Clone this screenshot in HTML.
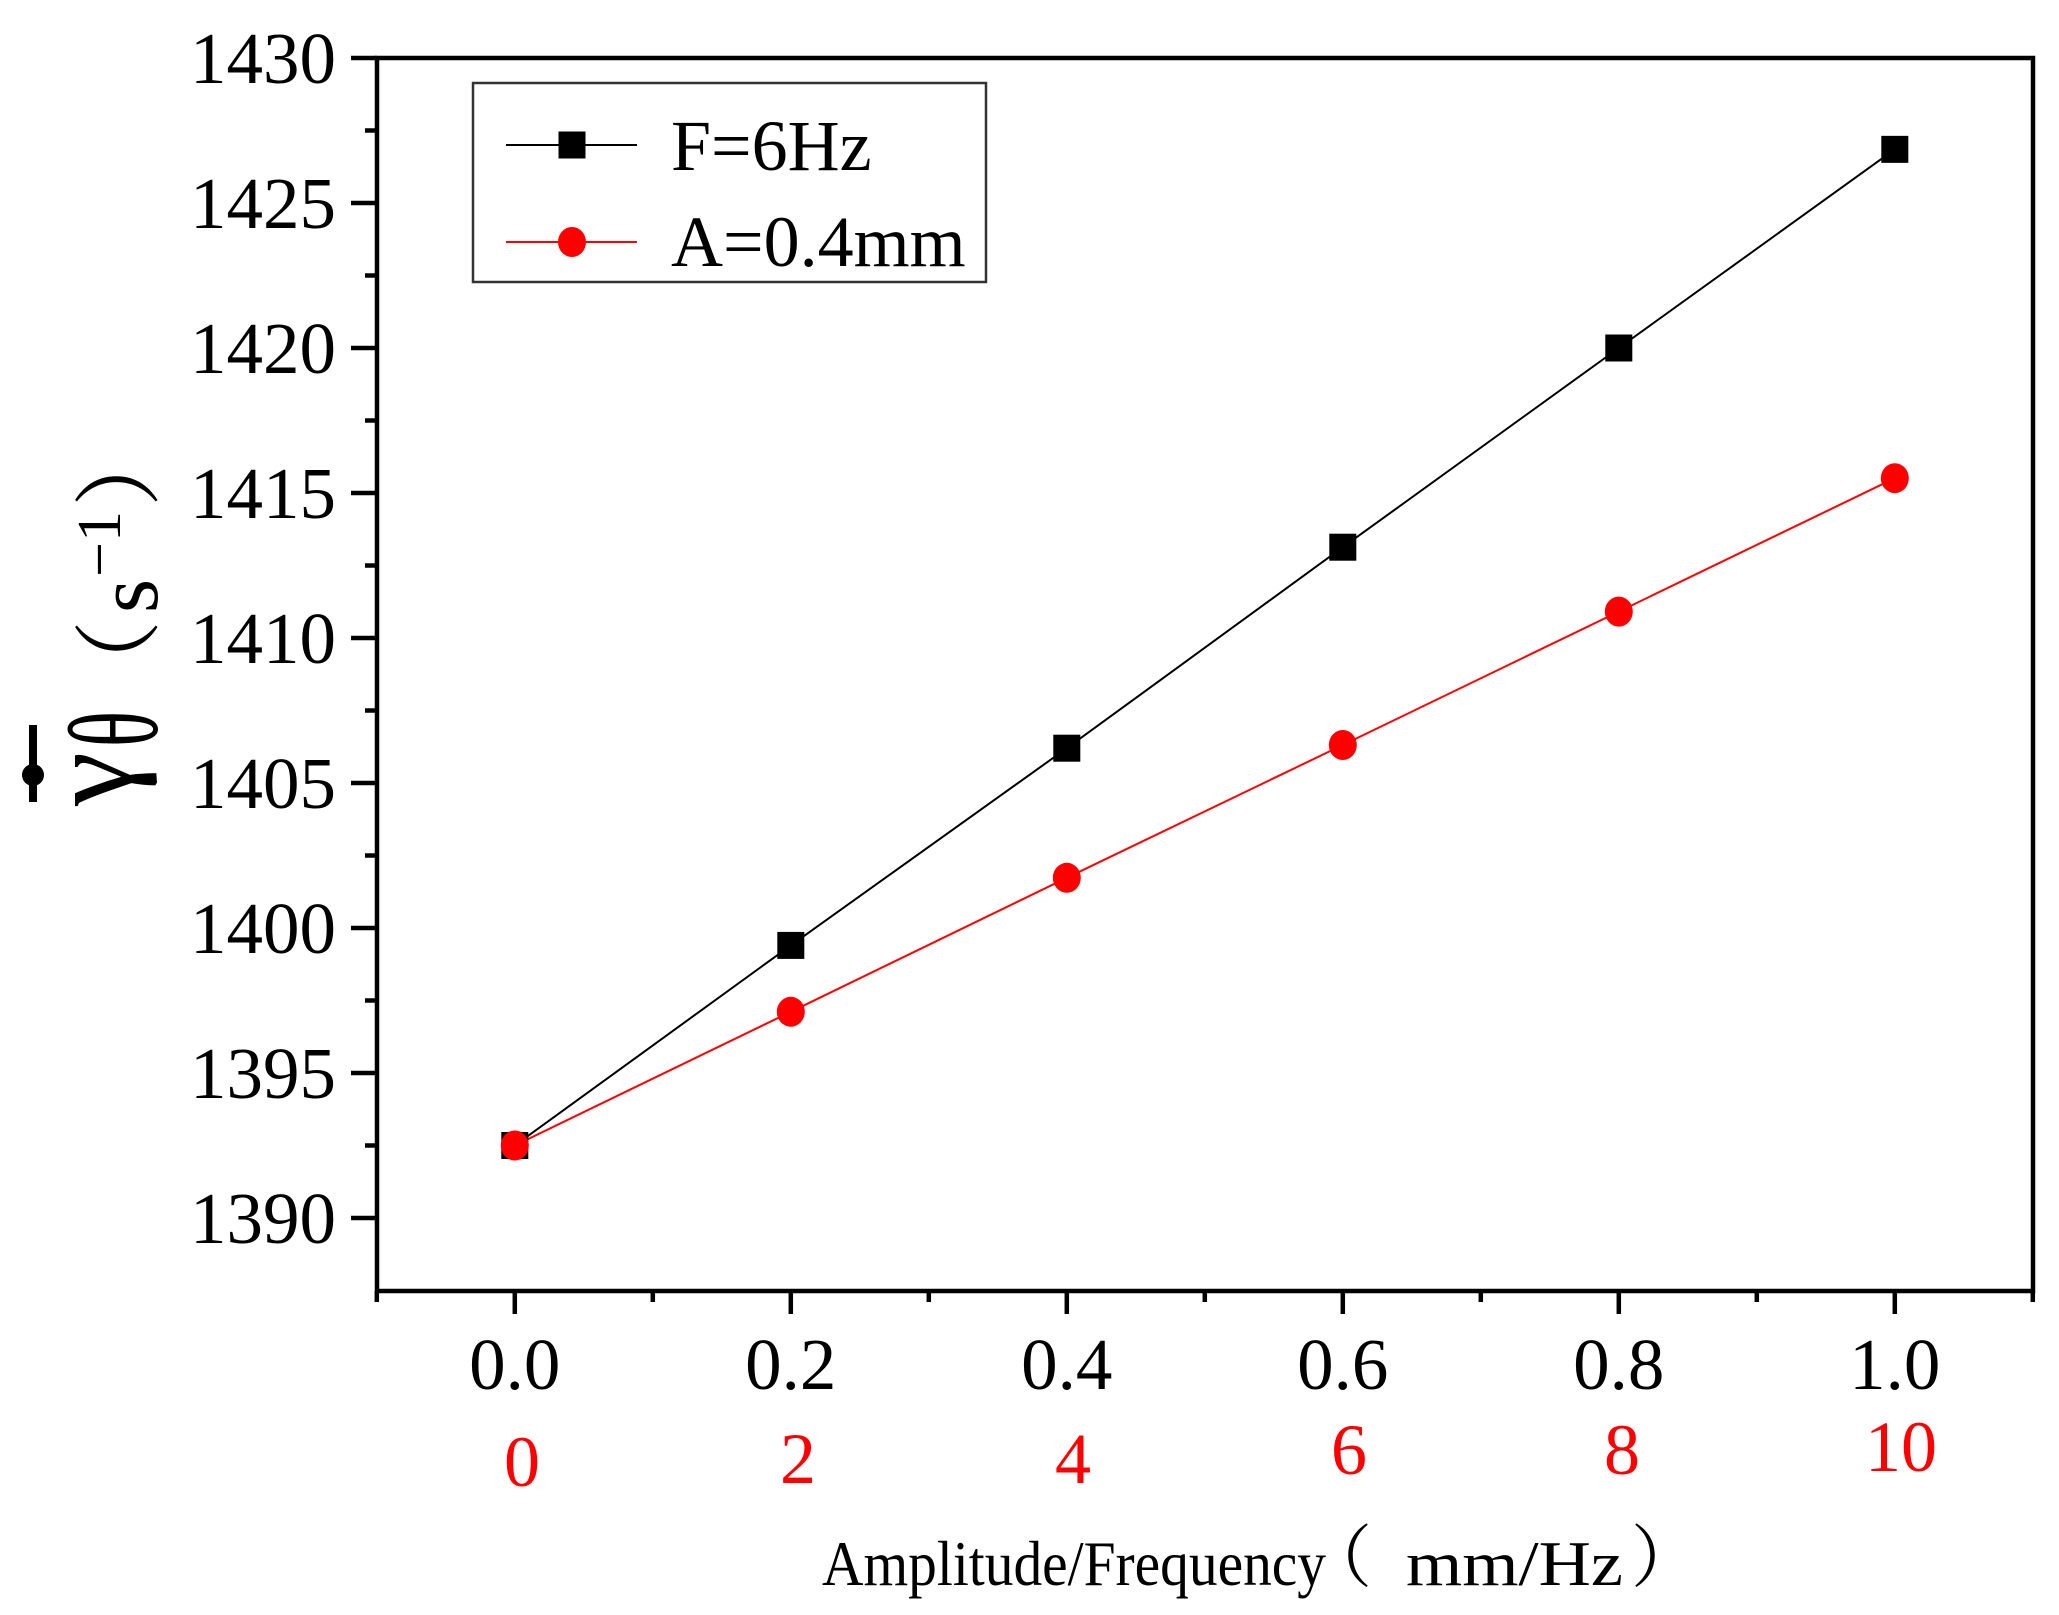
<!DOCTYPE html>
<html><head><meta charset="utf-8"><style>html,body{margin:0;padding:0;background:#fff;}svg{display:block;}</style></head>
<body>
<svg xmlns="http://www.w3.org/2000/svg" width="2059" height="1615" viewBox="0 0 2059 1615">
<rect width="2059" height="1615" fill="#fff"/>
<g font-family="'Liberation Serif','Noto Serif CJK SC',serif">
<!-- frame -->
<rect x="377" y="58" width="1656" height="1233" fill="none" stroke="#000" stroke-width="4.5"/>
<!-- y ticks -->
<g stroke="#000" stroke-width="4.5">
<line x1="351" y1="58" x2="377" y2="58"/><line x1="365" y1="130.5" x2="377" y2="130.5"/>
<line x1="351" y1="203" x2="377" y2="203"/><line x1="365" y1="275.5" x2="377" y2="275.5"/>
<line x1="351" y1="348" x2="377" y2="348"/><line x1="365" y1="420.5" x2="377" y2="420.5"/>
<line x1="351" y1="493" x2="377" y2="493"/><line x1="365" y1="565.5" x2="377" y2="565.5"/>
<line x1="351" y1="638" x2="377" y2="638"/><line x1="365" y1="710.5" x2="377" y2="710.5"/>
<line x1="351" y1="783" x2="377" y2="783"/><line x1="365" y1="855.5" x2="377" y2="855.5"/>
<line x1="351" y1="928" x2="377" y2="928"/><line x1="365" y1="1000.5" x2="377" y2="1000.5"/>
<line x1="351" y1="1073" x2="377" y2="1073"/><line x1="365" y1="1145.5" x2="377" y2="1145.5"/>
<line x1="351" y1="1218" x2="377" y2="1218"/>
<!-- x ticks -->
<line x1="376.8" y1="1291" x2="376.8" y2="1302"/>
<line x1="514.8" y1="1291" x2="514.8" y2="1314"/>
<line x1="652.8" y1="1291" x2="652.8" y2="1302"/>
<line x1="790.8" y1="1291" x2="790.8" y2="1314"/>
<line x1="928.8" y1="1291" x2="928.8" y2="1302"/>
<line x1="1066.8" y1="1291" x2="1066.8" y2="1314"/>
<line x1="1204.8" y1="1291" x2="1204.8" y2="1302"/>
<line x1="1342.8" y1="1291" x2="1342.8" y2="1314"/>
<line x1="1480.8" y1="1291" x2="1480.8" y2="1302"/>
<line x1="1618.8" y1="1291" x2="1618.8" y2="1314"/>
<line x1="1756.8" y1="1291" x2="1756.8" y2="1302"/>
<line x1="1894.8" y1="1291" x2="1894.8" y2="1314"/>
<line x1="2032.8" y1="1291" x2="2032.8" y2="1302"/>
</g>
<!-- y tick labels -->
<g font-size="73" text-anchor="end" fill="#000">
<text x="336" y="83">1430</text>
<text x="336" y="228">1425</text>
<text x="336" y="373">1420</text>
<text x="336" y="518">1415</text>
<text x="336" y="663">1410</text>
<text x="336" y="808">1405</text>
<text x="336" y="953">1400</text>
<text x="336" y="1098">1395</text>
<text x="336" y="1243">1390</text>
</g>
<!-- x tick labels -->
<g font-size="73" text-anchor="middle" fill="#000">
<text x="514.8" y="1389">0.0</text>
<text x="790.8" y="1389">0.2</text>
<text x="1066.8" y="1389">0.4</text>
<text x="1342.8" y="1389">0.6</text>
<text x="1618.8" y="1389">0.8</text>
<text x="1894.8" y="1389">1.0</text>
</g>
<g font-size="72" text-anchor="middle" fill="#ff0000">
<text x="522" y="1486">0</text>
<text x="798" y="1483">2</text>
<text x="1073" y="1483">4</text>
<text x="1349" y="1474">6</text>
<text x="1622" y="1474">8</text>
<text x="1901" y="1471">10</text>
</g>
<!-- x axis title -->
<text x="822" y="1585" font-size="63" textLength="504" lengthAdjust="spacingAndGlyphs">Amplitude/Frequency</text>
<text x="1304" y="1581" font-size="68">（</text>
<text x="1406" y="1585" font-size="63" textLength="217" lengthAdjust="spacingAndGlyphs">mm/Hz</text>
<text x="1631" y="1581" font-size="68">）</text>
<!-- y axis title -->
<line x1="33" y1="725" x2="33" y2="802" stroke="#000" stroke-width="8"/>
<circle cx="33" cy="775" r="11" fill="#000"/>
<text transform="translate(131,779) rotate(-90)" font-size="122" text-anchor="middle">γ</text>
<text transform="translate(157,729) rotate(-90) scale(1,1.7)" font-size="75" text-anchor="middle">θ</text>
<text transform="translate(150,664) rotate(-90)" font-size="88" text-anchor="middle">（</text>
<text transform="translate(157,596) rotate(-90)" font-size="88" text-anchor="middle">s</text>
<text transform="translate(120,577) rotate(-90)" font-size="62">−1</text>
<text transform="translate(150,463) rotate(-90)" font-size="88" text-anchor="middle">）</text>
<!-- series lines -->
<polyline fill="none" stroke="#000" stroke-width="2" points="514.8,1145.5 790.8,945.4 1066.8,748.2 1342.8,547.2 1618.8,348 1894.8,149.35"/>
<polyline fill="none" stroke="#ff0000" stroke-width="2" points="514.8,1145.5 790.8,1011.8 1066.8,877.8 1342.8,745 1618.8,611.6 1894.8,478.2"/>
<!-- markers -->
<g fill="#000">
<rect x="501.3" y="1132" width="27" height="27"/>
<rect x="777.3" y="931.9" width="27" height="27"/>
<rect x="1053.3" y="734.7" width="27" height="27"/>
<rect x="1329.3" y="533.7" width="27" height="27"/>
<rect x="1605.3" y="334.5" width="27" height="27"/>
<rect x="1881.3" y="135.85" width="27" height="27"/>
</g>
<g fill="#ff0000">
<ellipse cx="514.8" cy="1145.5" rx="14" ry="15"/>
<ellipse cx="790.8" cy="1011.8" rx="14" ry="15"/>
<ellipse cx="1066.8" cy="877.8" rx="14" ry="15"/>
<ellipse cx="1342.8" cy="745" rx="14" ry="15"/>
<ellipse cx="1618.8" cy="611.6" rx="14" ry="15"/>
<ellipse cx="1894.8" cy="478.2" rx="14" ry="15"/>
</g>
<!-- legend -->
<rect x="473" y="83" width="513" height="199" fill="#fff" stroke="#333" stroke-width="2.5"/>
<line x1="506" y1="145" x2="637" y2="145" stroke="#000" stroke-width="2"/>
<rect x="558.5" y="131.5" width="27" height="27" fill="#000"/>
<line x1="506" y1="242" x2="637" y2="242" stroke="#ff0000" stroke-width="2"/>
<ellipse cx="572" cy="242" rx="14" ry="15" fill="#ff0000"/>
<text x="671" y="170" font-size="72">F=6Hz</text>
<text x="671" y="266" font-size="72">A=0.4mm</text>
</g>
</svg>
</body></html>
